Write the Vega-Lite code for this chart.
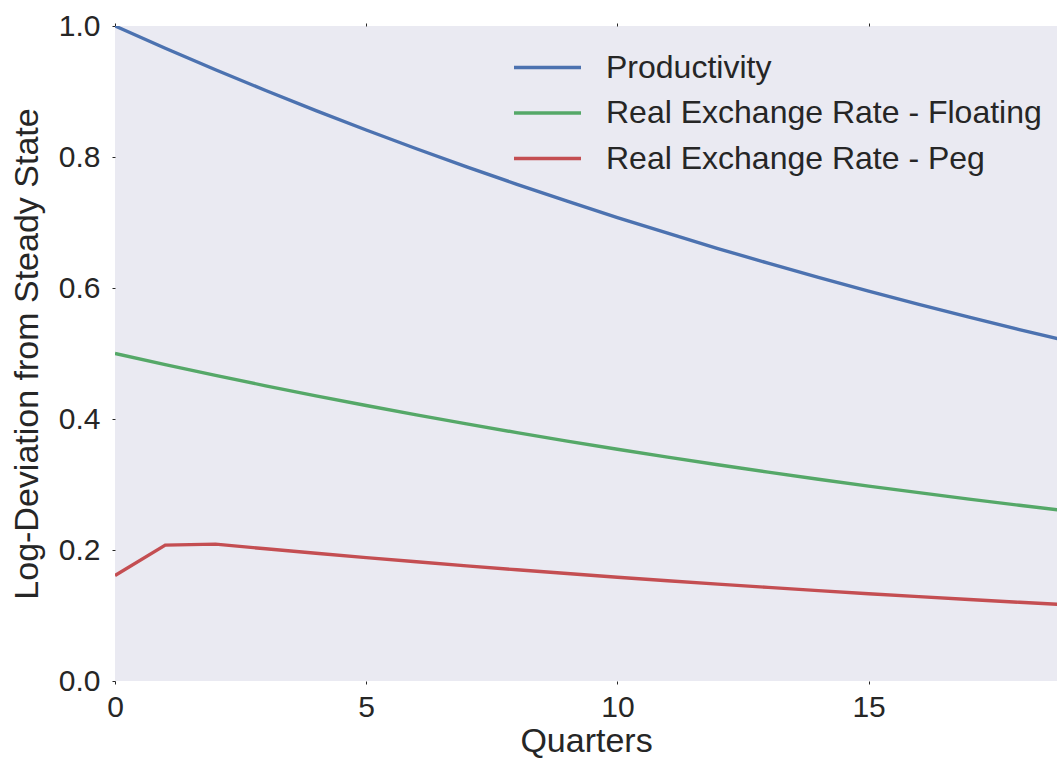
{
  "$schema": "https://vega.github.io/schema/vega-lite/v6.json",
  "width": 942,
  "height": 655,
  "autosize": {"type": "none"},
  "padding": {"left": 115, "top": 26, "right": 0, "bottom": 78},
  "background": "white",
  "config": {
    "font": "Liberation Sans",
    "view": {"fill": "#EAEAF2", "stroke": null},
    "axis": {"grid": false, "domain": false, "labelFlush": false, "tickColor": "#262626", "tickSize": 3, "tickWidth": 1, "labelColor": "#262626", "titleColor": "#262626", "labelFont": "Liberation Sans", "titleFont": "Liberation Sans", "labelFontSize": 30, "titleFontSize": 34, "titleFontWeight": "normal"}
  },
  "data": {"values": [
    {"q": 0, "s": "Productivity", "v": 1.0},
    {"q": 1, "s": "Productivity", "v": 0.966},
    {"q": 2, "s": "Productivity", "v": 0.9332},
    {"q": 3, "s": "Productivity", "v": 0.9015},
    {"q": 4, "s": "Productivity", "v": 0.8708},
    {"q": 5, "s": "Productivity", "v": 0.8412},
    {"q": 6, "s": "Productivity", "v": 0.8126},
    {"q": 7, "s": "Productivity", "v": 0.785},
    {"q": 8, "s": "Productivity", "v": 0.7583},
    {"q": 9, "s": "Productivity", "v": 0.7325},
    {"q": 10, "s": "Productivity", "v": 0.7076},
    {"q": 11, "s": "Productivity", "v": 0.6836},
    {"q": 12, "s": "Productivity", "v": 0.6603},
    {"q": 13, "s": "Productivity", "v": 0.6379},
    {"q": 14, "s": "Productivity", "v": 0.6162},
    {"q": 15, "s": "Productivity", "v": 0.5952},
    {"q": 16, "s": "Productivity", "v": 0.575},
    {"q": 17, "s": "Productivity", "v": 0.5555},
    {"q": 18, "s": "Productivity", "v": 0.5366},
    {"q": 19, "s": "Productivity", "v": 0.5183},
    {"q": 0, "s": "Real Exchange Rate - Floating", "v": 0.5},
    {"q": 1, "s": "Real Exchange Rate - Floating", "v": 0.483},
    {"q": 2, "s": "Real Exchange Rate - Floating", "v": 0.4666},
    {"q": 3, "s": "Real Exchange Rate - Floating", "v": 0.4507},
    {"q": 4, "s": "Real Exchange Rate - Floating", "v": 0.4354},
    {"q": 5, "s": "Real Exchange Rate - Floating", "v": 0.4206},
    {"q": 6, "s": "Real Exchange Rate - Floating", "v": 0.4063},
    {"q": 7, "s": "Real Exchange Rate - Floating", "v": 0.3925},
    {"q": 8, "s": "Real Exchange Rate - Floating", "v": 0.3792},
    {"q": 9, "s": "Real Exchange Rate - Floating", "v": 0.3663},
    {"q": 10, "s": "Real Exchange Rate - Floating", "v": 0.3538},
    {"q": 11, "s": "Real Exchange Rate - Floating", "v": 0.3418},
    {"q": 12, "s": "Real Exchange Rate - Floating", "v": 0.3302},
    {"q": 13, "s": "Real Exchange Rate - Floating", "v": 0.3189},
    {"q": 14, "s": "Real Exchange Rate - Floating", "v": 0.3081},
    {"q": 15, "s": "Real Exchange Rate - Floating", "v": 0.2976},
    {"q": 16, "s": "Real Exchange Rate - Floating", "v": 0.2875},
    {"q": 17, "s": "Real Exchange Rate - Floating", "v": 0.2777},
    {"q": 18, "s": "Real Exchange Rate - Floating", "v": 0.2683},
    {"q": 19, "s": "Real Exchange Rate - Floating", "v": 0.2592},
    {"q": 0, "s": "Real Exchange Rate - Peg", "v": 0.161},
    {"q": 1, "s": "Real Exchange Rate - Peg", "v": 0.2075},
    {"q": 2, "s": "Real Exchange Rate - Peg", "v": 0.209},
    {"q": 3, "s": "Real Exchange Rate - Peg", "v": 0.2019},
    {"q": 4, "s": "Real Exchange Rate - Peg", "v": 0.195},
    {"q": 5, "s": "Real Exchange Rate - Peg", "v": 0.1884},
    {"q": 6, "s": "Real Exchange Rate - Peg", "v": 0.182},
    {"q": 7, "s": "Real Exchange Rate - Peg", "v": 0.1758},
    {"q": 8, "s": "Real Exchange Rate - Peg", "v": 0.1698},
    {"q": 9, "s": "Real Exchange Rate - Peg", "v": 0.1641},
    {"q": 10, "s": "Real Exchange Rate - Peg", "v": 0.1585},
    {"q": 11, "s": "Real Exchange Rate - Peg", "v": 0.1531},
    {"q": 12, "s": "Real Exchange Rate - Peg", "v": 0.1479},
    {"q": 13, "s": "Real Exchange Rate - Peg", "v": 0.1429},
    {"q": 14, "s": "Real Exchange Rate - Peg", "v": 0.138},
    {"q": 15, "s": "Real Exchange Rate - Peg", "v": 0.1333},
    {"q": 16, "s": "Real Exchange Rate - Peg", "v": 0.1288},
    {"q": 17, "s": "Real Exchange Rate - Peg", "v": 0.1244},
    {"q": 18, "s": "Real Exchange Rate - Peg", "v": 0.1202},
    {"q": 19, "s": "Real Exchange Rate - Peg", "v": 0.1161}
  ]},
  "layer": [
    {
      "mark": {"type": "line", "strokeWidth": 3.4, "clip": true},
      "encoding": {
        "x": {"field": "q", "type": "quantitative", "scale": {"domain": [0, 18.75], "nice": false, "zero": false},
              "axis": {"values": [0, 5, 10, 15], "title": "Quarters", "labelPadding": 8, "titlePadding": 2, "format": "d"}},
        "y": {"field": "v", "type": "quantitative", "scale": {"domain": [0, 1], "nice": false},
              "axis": {"values": [0, 0.2, 0.4, 0.6, 0.8, 1.0], "format": ".1f", "title": "Log-Deviation from Steady State", "labelPadding": 12, "titlePadding": 14}},
        "color": {"field": "s", "type": "nominal",
          "scale": {"domain": ["Productivity", "Real Exchange Rate - Floating", "Real Exchange Rate - Peg"], "range": ["#4C72B0", "#55A868", "#C44E52"]},
          "legend": {"title": null, "orient": "none", "legendX": 397, "legendY": 19, "symbolType": "stroke", "symbolSize": 4489, "symbolStrokeWidth": 3.4, "clipHeight": 45, "labelFontSize": 32, "labelColor": "#262626", "labelFont": "Liberation Sans", "rowPadding": 0.5, "labelOffset": 23, "labelLimit": 600}}
      }
    },
    {
      "mark": {"type": "rule", "opacity": 0},
      "encoding": {
        "x": {"datum": 0, "type": "quantitative", "axis": {"orient": "top", "values": [0, 5, 10, 15], "labels": false, "title": null}}
      }
    }
  ],
  "resolve": {"axis": {"x": "independent"}}
}
